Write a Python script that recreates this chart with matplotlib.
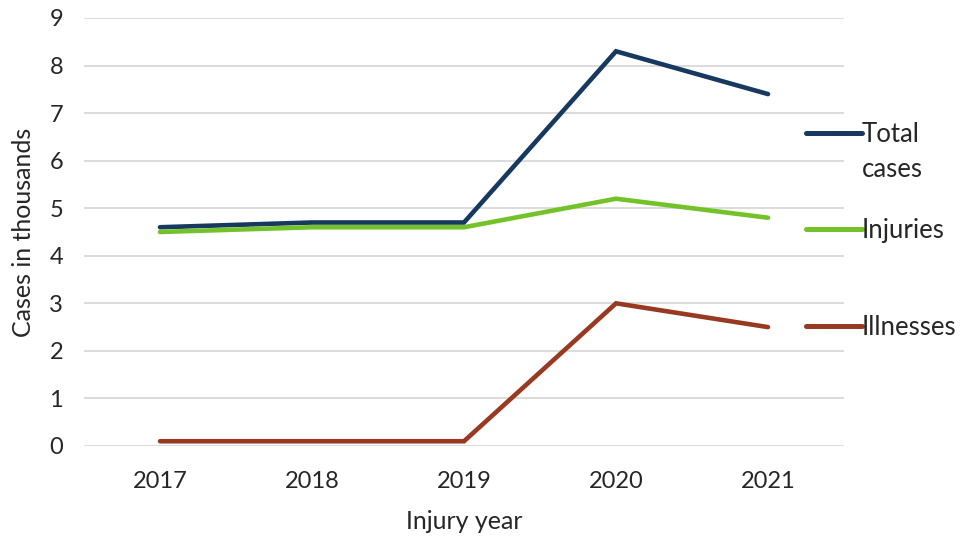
import matplotlib
matplotlib.use("Agg")
import matplotlib.pyplot as plt

years = ["2017", "2018", "2019", "2020", "2021"]
total_cases = [4.6, 4.7, 4.7, 8.3, 7.4]
injuries = [4.5, 4.6, 4.6, 5.2, 4.8]
illnesses = [0.1, 0.1, 0.1, 3.0, 2.5]
y_ticks = [0, 1, 2, 3, 4, 5, 6, 7, 8, 9]
series_labels = ["Total", "Injuries", "Illnesses"]

plt.rcParams['font.family'] = ['Lato', 'DejaVu Sans']
FS_TICK = 17
FS_LAB = 18
FS_LEG = 18.5
TXT = '#262626'

fig = plt.figure(figsize=(9.74, 5.37), dpi=100)
ax = fig.add_axes([84/974, 91/537, 760/974, 428/537])

x = list(range(len(years)))
kw = dict(lw=3.3, solid_capstyle='round', solid_joinstyle='miter')
l1, = ax.plot(x, total_cases, color='#17385F', **kw)
l2, = ax.plot(x, injuries, color='#74C22A', **kw)
l3, = ax.plot(x, illnesses, color='#983A22', **kw)

ax.set_xlim(-0.5, len(years) - 0.5)
ax.set_ylim(0, 9)
ax.set_xticks(x)
ax.set_xticklabels(years)
ax.set_yticks(y_ticks)
ax.tick_params(axis='both', length=0, labelsize=FS_TICK, colors=TXT)
ax.tick_params(axis='x', pad=18)
ax.tick_params(axis='y', pad=15)
ax.grid(axis='y', color='#D9D9D9', lw=1.3)
ax.set_axisbelow(True)
for s in ax.spines.values():
    s.set_visible(False)

ax.set_xlabel("Injury year", fontsize=FS_LAB, color=TXT, labelpad=13)
ax.set_ylabel("Cases in thousands", fontsize=FS_LAB, color=TXT, labelpad=10)

leg = ax.legend([l1, l2, l3], series_labels,
                loc='upper left', bbox_to_anchor=(806/974, (537-122)/537),
                bbox_transform=fig.transFigure,
                frameon=False, fontsize=FS_LEG, handlelength=2.18, handletextpad=0.0,
                labelspacing=2.78, borderpad=0, borderaxespad=0, labelcolor=TXT)
for h in leg.legend_handles:
    h.set_linewidth(3.6)
    h.set_solid_capstyle('round')
t0 = leg.get_texts()[0]
ax.annotate("cases", xy=(0, 0), xycoords=t0, xytext=(0, -30), textcoords='offset pixels',
            ha='left', va='baseline', fontsize=FS_LEG, color=TXT, zorder=10,
            annotation_clip=False)

fig.savefig("out.png", dpi=100)
